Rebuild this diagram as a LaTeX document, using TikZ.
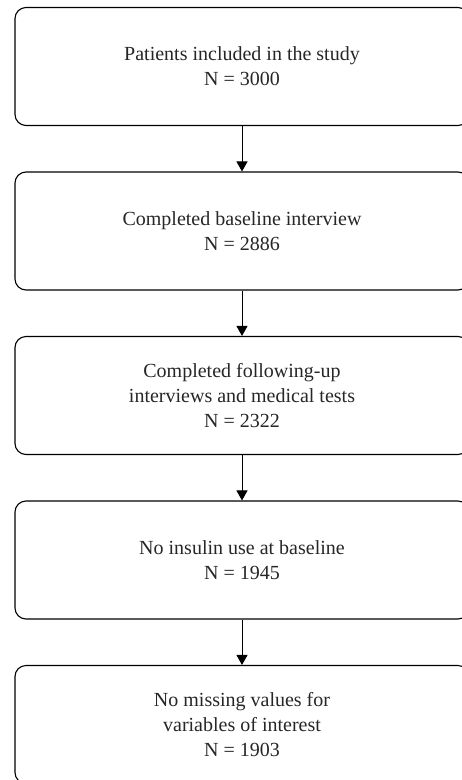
\documentclass[tikz,border=0pt]{standalone}
\usepackage{fontspec}
\setmainfont{Liberation Serif}
\usetikzlibrary{arrows.meta}

\begin{document}
\begin{tikzpicture}[x=1pt,y=-1pt,
    stage/.style={draw,rounded corners=11pt,line width=1.1pt,
      minimum width=454pt,minimum height=118pt,align=center,
      font=\fontsize{20}{25}\selectfont,text=black!85},
    >={Triangle[width=11pt,length=10pt]}]
    \useasboundingbox (0,0) rectangle (462,780);
    \clip (0,0) rectangle (462,780);

    \node[stage] (s1) at (242,66.5) {Patients included in the study\\N = 3000};
    \node[stage] (s2) at (242,231) {Completed baseline interview\\N = 2886};
    \node[stage] (s3) at (242,395.5) {Completed following-up\\interviews and medical tests\\N = 2322};
    \node[stage] (s4) at (242,560) {No insulin use at baseline\\N = 1945};
    \node[stage] (s5) at (242,724.5) {No missing values for\\variables of interest\\N = 1903};

    \draw[line width=1pt,->] (s1) -- (s2);
    \draw[line width=1pt,->] (s2) -- (s3);
    \draw[line width=1pt,->] (s3) -- (s4);
    \draw[line width=1pt,->] (s4) -- (s5);
\end{tikzpicture}
\end{document}
